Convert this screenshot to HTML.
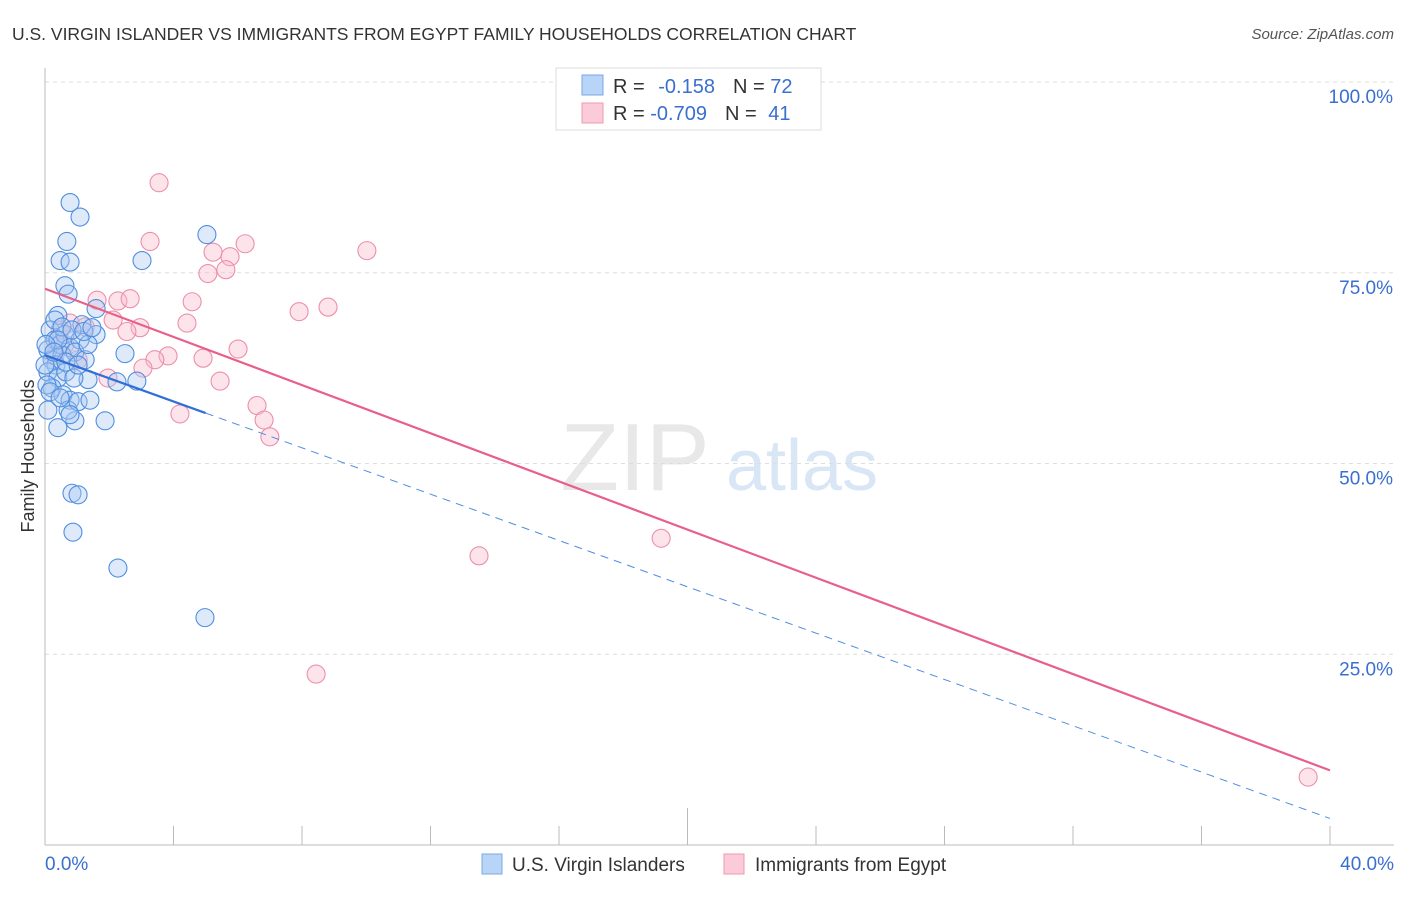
<!DOCTYPE html>
<html><head><meta charset="utf-8"><style>
body{margin:0;background:#fff;font-family:"Liberation Sans",sans-serif}
svg text{font-family:"Liberation Sans",sans-serif}
</style></head><body>
<svg id="c" width="1406" height="892" xmlns="http://www.w3.org/2000/svg">
<text x="12" y="40" font-size="17.5" fill="#333">U.S. VIRGIN ISLANDER VS IMMIGRANTS FROM EGYPT FAMILY HOUSEHOLDS CORRELATION CHART</text>
<text x="1394" y="39" font-size="15" fill="#555" font-style="italic" text-anchor="end">Source: ZipAtlas.com</text>
<g>
<text x="635" y="490" font-size="96" fill="#e8e8e8" font-family="Liberation Serif" text-anchor="middle">ZIP</text>
<text x="802" y="490" font-size="72" fill="#d9e6f6" text-anchor="middle">atlas</text>
</g>
<g id="grid"></g>
<g id="axes"></g>
<g id="marks"></g>
<text transform="translate(34,456) rotate(-90)" font-size="18" fill="#333" text-anchor="middle">Family Households</text>
<g>
<rect x="556" y="68" width="265" height="62" fill="#fff" stroke="#ddd"/>
<rect x="582" y="75" width="21" height="20" fill="#b8d4f7" stroke="#7aa7e6"/>
<rect x="582" y="103" width="21" height="20" fill="#fccbd9" stroke="#ee9ab3"/>
<text x="613" y="93" font-size="20" fill="#333">R = <tspan fill="#3a6fd0" dx="8">-0.158</tspan><tspan dx="18" fill="#333">N = </tspan><tspan fill="#3a6fd0">72</tspan></text>
<text x="613" y="120" font-size="20" fill="#333">R = <tspan fill="#3a6fd0">-0.709</tspan><tspan dx="18" fill="#333">N = </tspan><tspan fill="#3a6fd0" dx="6">41</tspan></text>
</g>
<g>
<rect x="482" y="854" width="20" height="20" fill="#b8d4f7" stroke="#7aa7e6"/>
<text x="512" y="871" font-size="19" fill="#333">U.S. Virgin Islanders</text>
<rect x="724" y="854" width="20" height="20" fill="#fccbd9" stroke="#ee9ab3"/>
<text x="755" y="871" font-size="19" fill="#333">Immigrants from Egypt</text>
</g>
</svg>
<script>
const yTicks=[100,75,50,25];
const yTickLabels=["100.0%","75.0%","50.0%","25.0%"];
const xTickLabels=["0.0%","40.0%"];
const blueX=[0.78,1.09,0.68,5.04,0.47,0.78,3.02,0.62,0.72,1.59,0.40,1.59,2.49,2.86,1.34,2.24,1.87,0.93,0.40,0.84,1.03,0.87,2.27,4.98,
0.16,0.31,0.09,0.22,0.47,0.62,0.78,0.53,0.34,0.09,0.40,0.65,1.09,1.15,0.93,1.25,0.22,0.56,0.78,0.09,0.72,1.03,1.40,0.31,0.53,0.06,0.40,0.84,1.34,0,0.16,0.90,0.47,0.03,0.65,0.28,1.03,1.21,1.46,0.78];
const blueY=[84.2,82.3,79.1,80.0,76.6,76.4,76.6,73.3,72.2,70.3,69.4,66.9,64.4,60.8,61.0,60.7,55.6,55.6,54.7,46.1,45.9,41.0,36.3,29.8,
67.5,66.2,64.9,63.6,65.6,66.9,65.2,64.2,62.9,62.0,61.2,62.0,66.2,68.2,64.6,63.6,59.9,59.0,58.3,57.0,57.0,58.1,58.3,68.8,67.9,60.3,66.2,67.5,65.6,62.9,59.4,61.2,58.6,65.6,63.3,64.6,62.9,67.3,67.8,56.4];
const pinkX=[3.55,3.27,5.76,6.23,5.23,5.63,5.07,10.02,1.62,2.27,2.65,4.58,7.91,8.81,2.12,4.42,2.96,2.55,0.78,1.25,0.47,6.01,4.92,3.83,3.42,3.05,1.03,1.96,5.45,6.60,6.82,4.20,7.00,13.51,19.18,8.44,39.32,0.62,0.31];
const pinkY=[86.8,79.1,77.1,78.8,77.7,75.4,74.9,77.9,71.4,71.3,71.6,71.2,69.9,70.5,68.8,68.4,67.8,67.3,68.4,67.9,67.5,65.0,63.8,64.1,63.6,62.5,63.6,61.2,60.8,57.6,55.7,56.5,53.5,37.9,40.2,22.4,8.9,65.6,64.2];
const blueTrend=[64.2,-1.518];
const pinkTrend=[72.9,-1.578];
const X0=45,X1=1330,Y0=845,Y100=82;
const sx=v=>X0+(v/40)*(X1-X0);
const sy=v=>Y0-(v/100)*(Y0-Y100);
const NS="http://www.w3.org/2000/svg";
function mk(t,a,p){const e=document.createElementNS(NS,t);for(const k in a)e.setAttribute(k,a[k]);p.appendChild(e);return e;}
const grid=document.getElementById('grid'),axes=document.getElementById('axes'),marks=document.getElementById('marks');
yTicks.forEach((v,i)=>{
 const l=mk('line',{x1:X0,x2:1394,y1:sy(v),y2:sy(v),stroke:'#ddd','stroke-dasharray':'4,4'},grid);
 
 
 const t=mk('text',{x:1393,y:sy(v)+21,'font-size':19,fill:'#3a6fd0','text-anchor':'end'},axes);
 t.textContent=yTickLabels[i];
 
 
});
let a=mk('line',{x1:X0,x2:X0,y1:68,y2:Y0,stroke:'#bbb'},axes);


a=mk('line',{x1:X0,x2:1394,y1:Y0,y2:Y0,stroke:'#bbb'},axes);


for(let i=1;i<=10;i++){
 const tk=mk('line',{x1:sx(i*4),x2:sx(i*4),y1:i==5?808:826,y2:Y0,stroke:'#bbb'},axes);
 
 
}
[[0,'start',45],[40,'end',1394]].forEach((d,i)=>{
 const t=mk('text',{x:d[2],y:870,'font-size':19,fill:'#3a6fd0','text-anchor':d[1]},axes);
 t.textContent=xTickLabels[i];
 
 
});
function pts(xs,ys,fill,stroke,name){
 xs.forEach((x,i)=>{
  const c=mk('circle',{cx:sx(x),cy:sy(ys[i]),r:9,fill:fill,'fill-opacity':0.38,stroke:stroke,'stroke-width':1.1},marks);
  
  
 });
}
pts(pinkX,pinkY,'#f9b8cb','#ec8fac','egypt-point');
pts(blueX,blueY,'#a8c8f3','#4f8ee0','virgin-islander-point');
let tl=mk('line',{x1:sx(0),y1:sy(pinkTrend[0]),x2:sx(40),y2:sy(pinkTrend[0]+40*pinkTrend[1]),stroke:'#e8608a','stroke-width':2.2},marks);


tl=mk('line',{x1:sx(0),y1:sy(blueTrend[0]),x2:sx(5),y2:sy(blueTrend[0]+5*blueTrend[1]),stroke:'#2f6fd6','stroke-width':2.2},marks);


tl=mk('line',{x1:sx(5),y1:sy(blueTrend[0]+5*blueTrend[1]),x2:sx(40),y2:sy(blueTrend[0]+40*blueTrend[1]),stroke:'#4f8ee0','stroke-width':1,'stroke-dasharray':'8,6'},marks);


</script>
</body></html>
